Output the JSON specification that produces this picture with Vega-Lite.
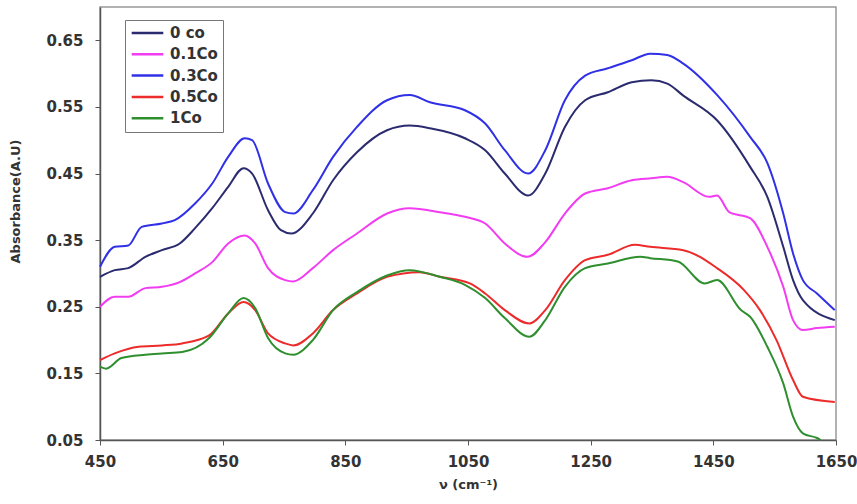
{
  "$schema": "https://vega.github.io/schema/vega-lite/v6.json",
  "width": 736,
  "height": 433,
  "autosize": {"type": "none"},
  "padding": {"left": 100, "top": 7, "right": 21, "bottom": 64},
  "background": "white",
  "config": {
    "font": "DejaVu Sans",
    "view": {"stroke": "#999999", "strokeWidth": 1.5}
  },
  "datasets": {
    "c0": [
      {"x": 450, "y": 0.295}, {"x": 474, "y": 0.305}, {"x": 496, "y": 0.308}, {"x": 524, "y": 0.325}, {"x": 551, "y": 0.335}, {"x": 580, "y": 0.345}, {"x": 605, "y": 0.368}, {"x": 633, "y": 0.398}, {"x": 659, "y": 0.43}, {"x": 684, "y": 0.458}, {"x": 698, "y": 0.45}, {"x": 724, "y": 0.395}, {"x": 745, "y": 0.365}, {"x": 762, "y": 0.36}, {"x": 797, "y": 0.39}, {"x": 830, "y": 0.44}, {"x": 869, "y": 0.482}, {"x": 918, "y": 0.515}, {"x": 955, "y": 0.522}, {"x": 988, "y": 0.518}, {"x": 1045, "y": 0.503}, {"x": 1078, "y": 0.485}, {"x": 1110, "y": 0.45}, {"x": 1148, "y": 0.417}, {"x": 1176, "y": 0.45}, {"x": 1208, "y": 0.52}, {"x": 1241, "y": 0.56}, {"x": 1278, "y": 0.572}, {"x": 1317, "y": 0.587}, {"x": 1349, "y": 0.59}, {"x": 1375, "y": 0.585}, {"x": 1401, "y": 0.567}, {"x": 1456, "y": 0.53}, {"x": 1510, "y": 0.46}, {"x": 1538, "y": 0.415}, {"x": 1564, "y": 0.34}, {"x": 1580, "y": 0.29}, {"x": 1596, "y": 0.26}, {"x": 1648, "y": 0.23}
    ],
    "c01": [
      {"x": 450, "y": 0.25}, {"x": 474, "y": 0.265}, {"x": 496, "y": 0.265}, {"x": 524, "y": 0.278}, {"x": 551, "y": 0.28}, {"x": 580, "y": 0.287}, {"x": 605, "y": 0.3}, {"x": 633, "y": 0.317}, {"x": 659, "y": 0.345}, {"x": 686, "y": 0.357}, {"x": 703, "y": 0.345}, {"x": 724, "y": 0.308}, {"x": 752, "y": 0.29}, {"x": 765, "y": 0.288}, {"x": 797, "y": 0.308}, {"x": 830, "y": 0.335}, {"x": 869, "y": 0.36}, {"x": 918, "y": 0.39}, {"x": 955, "y": 0.398}, {"x": 1004, "y": 0.392}, {"x": 1045, "y": 0.385}, {"x": 1078, "y": 0.375}, {"x": 1110, "y": 0.345}, {"x": 1147, "y": 0.325}, {"x": 1176, "y": 0.347}, {"x": 1208, "y": 0.39}, {"x": 1241, "y": 0.42}, {"x": 1278, "y": 0.428}, {"x": 1317, "y": 0.44}, {"x": 1349, "y": 0.443}, {"x": 1375, "y": 0.445}, {"x": 1401, "y": 0.437}, {"x": 1443, "y": 0.415}, {"x": 1456, "y": 0.417}, {"x": 1476, "y": 0.392}, {"x": 1510, "y": 0.383}, {"x": 1538, "y": 0.34}, {"x": 1564, "y": 0.28}, {"x": 1580, "y": 0.23}, {"x": 1596, "y": 0.215}, {"x": 1619, "y": 0.218}, {"x": 1648, "y": 0.22}
    ],
    "c03": [
      {"x": 450, "y": 0.31}, {"x": 474, "y": 0.34}, {"x": 496, "y": 0.342}, {"x": 518, "y": 0.37}, {"x": 551, "y": 0.375}, {"x": 572, "y": 0.38}, {"x": 605, "y": 0.405}, {"x": 633, "y": 0.435}, {"x": 659, "y": 0.475}, {"x": 686, "y": 0.503}, {"x": 698, "y": 0.5}, {"x": 724, "y": 0.435}, {"x": 752, "y": 0.392}, {"x": 765, "y": 0.39}, {"x": 797, "y": 0.425}, {"x": 830, "y": 0.475}, {"x": 869, "y": 0.52}, {"x": 918, "y": 0.56}, {"x": 955, "y": 0.568}, {"x": 988, "y": 0.557}, {"x": 1045, "y": 0.545}, {"x": 1078, "y": 0.525}, {"x": 1110, "y": 0.485}, {"x": 1148, "y": 0.45}, {"x": 1176, "y": 0.485}, {"x": 1208, "y": 0.56}, {"x": 1241, "y": 0.597}, {"x": 1278, "y": 0.608}, {"x": 1317, "y": 0.62}, {"x": 1347, "y": 0.63}, {"x": 1375, "y": 0.628}, {"x": 1401, "y": 0.615}, {"x": 1456, "y": 0.568}, {"x": 1510, "y": 0.505}, {"x": 1538, "y": 0.466}, {"x": 1564, "y": 0.39}, {"x": 1580, "y": 0.33}, {"x": 1596, "y": 0.29}, {"x": 1619, "y": 0.27}, {"x": 1648, "y": 0.245}
    ],
    "c05": [
      {"x": 450, "y": 0.17}, {"x": 474, "y": 0.18}, {"x": 513, "y": 0.19}, {"x": 551, "y": 0.192}, {"x": 584, "y": 0.195}, {"x": 628, "y": 0.207}, {"x": 659, "y": 0.24}, {"x": 684, "y": 0.257}, {"x": 703, "y": 0.245}, {"x": 724, "y": 0.21}, {"x": 752, "y": 0.195}, {"x": 765, "y": 0.192}, {"x": 797, "y": 0.21}, {"x": 830, "y": 0.245}, {"x": 869, "y": 0.27}, {"x": 918, "y": 0.295}, {"x": 971, "y": 0.302}, {"x": 1004, "y": 0.295}, {"x": 1053, "y": 0.285}, {"x": 1078, "y": 0.27}, {"x": 1110, "y": 0.245}, {"x": 1150, "y": 0.225}, {"x": 1176, "y": 0.245}, {"x": 1208, "y": 0.29}, {"x": 1241, "y": 0.32}, {"x": 1278, "y": 0.328}, {"x": 1322, "y": 0.343}, {"x": 1347, "y": 0.34}, {"x": 1401, "y": 0.335}, {"x": 1456, "y": 0.308}, {"x": 1500, "y": 0.275}, {"x": 1526, "y": 0.245}, {"x": 1553, "y": 0.2}, {"x": 1580, "y": 0.14}, {"x": 1596, "y": 0.115}, {"x": 1648, "y": 0.107}
    ],
    "c1": [
      {"x": 450, "y": 0.16}, {"x": 460, "y": 0.157}, {"x": 485, "y": 0.173}, {"x": 524, "y": 0.178}, {"x": 551, "y": 0.18}, {"x": 584, "y": 0.182}, {"x": 628, "y": 0.203}, {"x": 659, "y": 0.24}, {"x": 684, "y": 0.263}, {"x": 703, "y": 0.248}, {"x": 724, "y": 0.203}, {"x": 752, "y": 0.18}, {"x": 765, "y": 0.178}, {"x": 797, "y": 0.2}, {"x": 830, "y": 0.245}, {"x": 869, "y": 0.272}, {"x": 918, "y": 0.297}, {"x": 955, "y": 0.305}, {"x": 1004, "y": 0.295}, {"x": 1045, "y": 0.283}, {"x": 1078, "y": 0.263}, {"x": 1110, "y": 0.233}, {"x": 1150, "y": 0.205}, {"x": 1176, "y": 0.23}, {"x": 1208, "y": 0.28}, {"x": 1241, "y": 0.308}, {"x": 1278, "y": 0.315}, {"x": 1331, "y": 0.325}, {"x": 1347, "y": 0.323}, {"x": 1392, "y": 0.318}, {"x": 1436, "y": 0.285}, {"x": 1456, "y": 0.29}, {"x": 1495, "y": 0.245}, {"x": 1510, "y": 0.235}, {"x": 1538, "y": 0.19}, {"x": 1564, "y": 0.135}, {"x": 1580, "y": 0.085}, {"x": 1596, "y": 0.06}, {"x": 1619, "y": 0.053}, {"x": 1625, "y": 0.05}
    ]
  },
  "layer": [
    {"data": {"name": "c0"}, "transform": [{"calculate": "'0 co'", "as": "s"}], "mark": {"type": "line", "strokeWidth": 2, "interpolate": "monotone"}, "encoding": {}},
    {"data": {"name": "c01"}, "transform": [{"calculate": "'0.1Co'", "as": "s"}], "mark": {"type": "line", "strokeWidth": 2, "interpolate": "monotone"}, "encoding": {}},
    {"data": {"name": "c03"}, "transform": [{"calculate": "'0.3Co'", "as": "s"}], "mark": {"type": "line", "strokeWidth": 2, "interpolate": "monotone"}, "encoding": {}},
    {"data": {"name": "c05"}, "transform": [{"calculate": "'0.5Co'", "as": "s"}], "mark": {"type": "line", "strokeWidth": 2, "interpolate": "monotone"}, "encoding": {}},
    {"data": {"name": "c1"}, "transform": [{"calculate": "'1Co'", "as": "s"}], "mark": {"type": "line", "strokeWidth": 2, "interpolate": "monotone"}, "encoding": {}}
  ],
  "encoding": {
    "x": {
      "field": "x", "type": "quantitative",
      "scale": {"domain": [450, 1650], "nice": false, "zero": false},
      "axis": {
        "title": "ν (cm⁻¹)", "values": [450, 650, 850, 1050, 1250, 1450, 1650], "format": "d",
        "grid": false, "domainColor": "#555555", "domainWidth": 1.5, "tickColor": "#555555", "tickSize": 5,
        "labelFlush": false, "labelBound": false, "labelOverlap": false,
        "labelFont": "DejaVu Sans", "labelFontWeight": "bold", "labelFontSize": 15, "labelColor": "#333333", "labelPadding": 9,
        "titleFont": "DejaVu Sans", "titleFontWeight": "bold", "titleFontSize": 13, "titleColor": "#333333", "titlePadding": 9
      }
    },
    "y": {
      "field": "y", "type": "quantitative",
      "scale": {"domain": [0.05, 0.7], "nice": false, "zero": false},
      "axis": {
        "title": "Absorbance(A.U)", "values": [0.05, 0.15, 0.25, 0.35, 0.45, 0.55, 0.65], "format": ".2f",
        "grid": false, "domainColor": "#555555", "domainWidth": 1.5, "tickColor": "#555555", "tickSize": 5,
        "labelFlush": false, "labelBound": false, "labelOverlap": false,
        "labelFont": "DejaVu Sans", "labelFontWeight": "bold", "labelFontSize": 15, "labelColor": "#333333", "labelPadding": 12,
        "titleFont": "DejaVu Sans", "titleFontWeight": "bold", "titleFontSize": 13, "titleColor": "#333333", "titleX": -78, "titleY": 194
      }
    },
    "color": {
      "field": "s", "type": "nominal",
      "scale": {"domain": ["0 co", "0.1Co", "0.3Co", "0.5Co", "1Co"], "range": ["#2b2b70", "#f23cf2", "#3030e6", "#ec2b2b", "#2f8f2f"]},
      "legend": {
        "title": null, "orient": "none", "legendX": 25, "legendY": 13,
        "symbolType": "stroke", "symbolSize": 1000, "symbolStrokeWidth": 2.5, "clipHeight": 16, "rowPadding": 5.3,
        "labelFont": "DejaVu Sans", "labelFontWeight": "bold", "labelFontSize": 15, "labelColor": "#333333", "labelOffset": 5,
        "strokeColor": "#777777", "fillColor": "white", "padding": 5, "labelLimit": 200
      }
    }
  }
}
